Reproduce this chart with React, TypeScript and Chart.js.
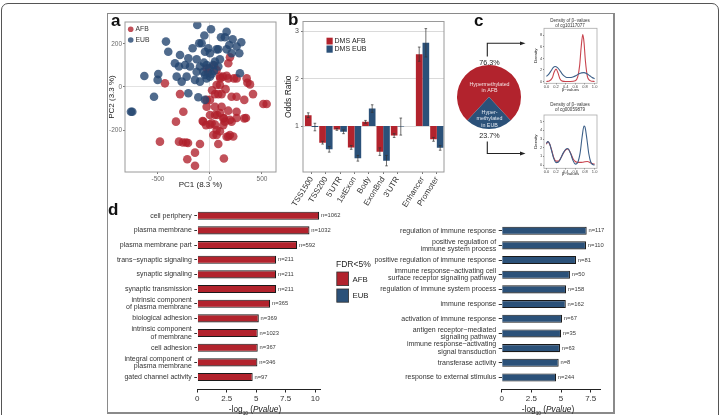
import React, { useEffect, useRef } from 'react';
import { Chart, registerables } from 'chart.js';

Chart.register(...registerables);
const FONT = '"Liberation Sans", Arial, Helvetica, sans-serif';
Chart.defaults.font.family = FONT;
Chart.defaults.color = '#333';

// ---------- colours
const RED = '#b2232d';
const BLUE = '#2b5179';
const RED_PT = 'rgba(176,32,44,0.78)';
const BLUE_PT = 'rgba(36,70,112,0.8)';
const DEN_RED = '#c8434d';
const DEN_BLUE = '#3d6089';

// ---------- panel a : PCA
const afbPC1 = [-433, -288, -256, -327, -481, -298, -260, -230, -96, -144, -218, -144, -32, 64, -16, 192, 176, 176, 256, 230, 353, 385, 64, 96, 48, 80, 112, 208, 256, 330, 513, 545, -32, 0, -32, 48, 112, 176, 256, 48, 96, 134, -64, 0, 48, 64, 96, 144, 208, 256, 346, 32, 64, 176, 224, 80, 134, 96, 125, 160, 360, 414, 100, -70, 0, 70, 128, 192, -38, 16, 128, 160, 192, 330, -211, 40, 20, 150];
const afbPC2 = [17, -33, -115, -161, -254, -254, -258, -258, -265, -305, -336, -366, 87, 79, 67, 138, 110, 40, 40, 40, 40, 12, 9, 9, -33, -33, -33, -45, -45, -60, -79, -79, -60, -60, -92, -92, -92, -110, -115, -130, -121, -144, -161, -175, -175, -200, -206, -161, -161, -144, -144, -223, -223, -230, -230, -265, -332, 48, 48, 52, 20, -33, 40, -158, -130, -130, -146, -153, -177, -169, -177, -231, -223, -146, -260, 100, -15, -10];
const eubPC1 = [-122, 10, 160, -54, 106, 144, -423, -103, 301, -167, 80, 218, 256, -401, -288, -208, -48, 0, 64, 208, 282, 48, -337, -240, -192, -96, -32, 32, 80, -298, -128, -64, -48, 0, -32, 16, -497, -631, -503, -224, -144, -320, -272, -96, 288, -208, -112, -538, -48, -747, -760, -128, 96, -16, -80, 38, -6, -58, 160, 186];
const eubPC2 = [288, 268, 257, 239, 231, 231, 211, 203, 208, 180, 175, 222, 188, 164, 149, 133, 164, 157, 175, 157, 157, 118, 110, 102, 95, 95, 102, 102, 95, 95, 71, 71, 56, 48, 40, 60, 60, 51, 33, 48, 33, 48, 25, 25, 64, -29, -48, -45, -60, -115, -115, 129, 129, 180, 203, 74, 87, 113, 175, 195];
const pc1Ticks = [-500, 0, 500];
const pc2Ticks = [-200, 0, 200];

// ---------- panel b : odds ratios
const regions = ['TSS1500', 'TSS200', "5'UTR", '1stExon', 'Body', 'ExonBnd', "3'UTR", 'Enhancer', 'Promoter'];
const regionPos = [0, 1, 2, 3, 4, 5, 6, 7.75, 8.75];
const orAFB = [1.23, 0.65, 0.93, 0.55, 1.09, 0.46, 0.8, 2.52, 0.72];
const orEUB = [0.98, 0.51, 0.88, 0.32, 1.37, 0.27, 0.99, 2.76, 0.54];
const errAFB = [0.05, 0.03, 0.02, 0.04, 0.03, 0.08, 0.04, 0.15, 0.04];
const errEUB = [0.08, 0.06, 0.04, 0.06, 0.08, 0.11, 0.18, 0.3, 0.05];
const orTicks = [1, 2, 3];

// ---------- panel c : pie + densities
const pieLabels = ['Hypermethylated in AFB', 'Hypermethylated in EUB'];
const pieShares = [76.3, 23.7];
const densXTicks = [0, 0.2, 0.4, 0.6, 0.8, 1.0];
const dens1YTicks = [0, 2, 4, 6, 8];
const dens2YTicks = [0, 1, 2, 3, 4, 5];
const d1RedX = [0, 0.06, 0.12, 0.16, 0.2, 0.24, 0.28, 0.33, 0.4, 0.5, 0.6, 0.65, 0.69, 0.72, 0.755, 0.78, 0.81, 0.85, 0.9, 0.95, 1.0];
const d1RedY = [0.02, 0.1, 0.6, 1.6, 2.15, 1.5, 0.5, 0.08, 0.02, 0.02, 0.15, 0.8, 2.8, 5.8, 8.1, 6.8, 3.5, 0.9, 0.2, 0.05, 0.02];
const d1BlueX = [0, 0.05, 0.1, 0.14, 0.18, 0.23, 0.28, 0.33, 0.38, 0.42, 0.48, 0.55, 0.62, 0.68, 0.73, 0.78, 0.84, 0.9, 0.95, 1.0];
const d1BlueY = [0.9, 1.3, 1.9, 2.4, 2.6, 2.4, 1.9, 1.3, 0.9, 0.7, 0.7, 0.8, 1.05, 1.35, 1.5, 1.55, 1.35, 1.0, 0.7, 0.5];
const d2RedX = [0, 0.03, 0.07, 0.11, 0.15, 0.2, 0.25, 0.3, 0.35, 0.4, 0.45, 0.5, 0.55, 0.6, 0.65, 0.7, 0.75, 0.8, 0.85, 0.9, 0.95, 1.0];
const d2RedY = [2.4, 2.7, 2.4, 1.7, 0.9, 0.45, 0.45, 0.8, 1.35, 1.75, 1.85, 1.4, 0.75, 0.4, 0.3, 0.3, 0.32, 0.38, 0.4, 0.3, 0.18, 0.1];
const d2BlueX = [0, 0.03, 0.07, 0.11, 0.15, 0.2, 0.25, 0.3, 0.35, 0.4, 0.44, 0.5, 0.55, 0.6, 0.65, 0.7, 0.74, 0.78, 0.8, 0.84, 0.88, 0.92, 0.96, 1.0];
const d2BlueY = [2.5, 2.7, 2.4, 1.6, 0.8, 0.28, 0.35, 0.8, 1.4, 1.8, 1.9, 1.35, 0.55, 0.1, 0.3, 1.4, 3.2, 4.5, 4.4, 3.0, 1.3, 0.35, 0.05, 0.0];

// ---------- panel d : GO enrichment
const goAFB = ['cell periphery', 'plasma membrane', 'plasma membrane part', 'trans\u2212synaptic signaling', 'synaptic signaling', 'synaptic transmission', 'intrinsic component\nof plasma membrane', 'biological adhesion', 'intrinsic component\nof membrane', 'cell adhesion', 'integral component of\nplasma membrane', 'gated channel activity'];
const goAFBScore = [10.34, 9.52, 8.47, 6.69, 6.69, 6.69, 6.18, 5.22, 5.13, 5.13, 5.1, 4.7];
const goAFBN = [1062, 1032, 592, 211, 211, 211, 365, 369, 1023, 367, 346, 97];
const goEUB = ['regulation of immune response', 'positive regulation of\nimmune system process', 'positive regulation of immune response', 'immune response\u2212activating cell\nsurface receptor signaling pathway', 'regulation of immune system process', 'immune response', 'activation of immune response', 'antigen receptor\u2212mediated\nsignaling pathway', 'immune response\u2212activating\nsignal transduction', 'transferase activity', 'response to external stimulus'];
const goEUBScore = [7.16, 7.1, 6.26, 5.75, 5.42, 5.4, 5.08, 5.0, 4.91, 4.8, 4.58];
const goEUBN = [117, 110, 81, 50, 158, 162, 67, 35, 63, 8, 244];
const goAFBTicks = [0, 2.5, 5, 7.5, 10];
const goEUBTicks = [0, 2.5, 5, 7.5];

// ---------- helpers
const pts = (xs: number[], ys: number[]) => xs.map((x, i) => ({ x, y: ys[i] }));
const setTicks = (vals: number[]) => (s: any) => { s.ticks = vals.map((v) => ({ value: v })); };
const fixW = (w: number) => (s: any) => { s.width = w; s.paddingTop = 0; s.paddingBottom = 0; s.paddingLeft = 0; s.paddingRight = 0; };
const fixH = (h: number) => (s: any) => { s.height = h; s.paddingTop = 0; s.paddingBottom = 0; s.paddingLeft = 0; s.paddingRight = 0; };
const noPlugins = { legend: { display: false }, tooltip: { enabled: false }, title: { display: false } };

function txt(c: CanvasRenderingContext2D, s: string, x: number, y: number, size: number, color: string, align: CanvasTextAlign = 'center', weight = 'normal', style = 'normal') {
  c.font = `${style} ${weight} ${size}px ${FONT}`;
  c.fillStyle = color;
  c.textAlign = align;
  c.textBaseline = 'middle';
  c.fillText(s, x, y);
}

const framePlugin = (color: string, lw = 1) => ({
  id: 'frame',
  afterDatasetsDraw(chart: any) {
    const { ctx, chartArea: a } = chart;
    ctx.save();
    ctx.strokeStyle = color;
    ctx.lineWidth = lw;
    ctx.strokeRect(a.left, a.top, a.right - a.left, a.bottom - a.top);
    ctx.restore();
  },
});

function ChartCanvas({ left, top, width, height, build }: { left: number; top: number; width: number; height: number; build: () => any }) {
  const ref = useRef<HTMLCanvasElement | null>(null);
  useEffect(() => {
    if (!ref.current) return;
    const chart = new Chart(ref.current, build());
    return () => chart.destroy();
  }, []);
  return <canvas ref={ref} width={width} height={height} style={{ position: 'absolute', left, top, width, height }} />;
}

// ---------- panel a
const buildA = () => {
  const ox = 107, oy = 14;
  return {
    type: 'scatter',
    data: {
      datasets: [
        { label: 'EUB', data: pts(eubPC1, eubPC2), backgroundColor: BLUE_PT, borderColor: 'rgba(0,0,0,0)', borderWidth: 0, pointRadius: 4.3 },
        { label: 'AFB', data: pts(afbPC1, afbPC2), backgroundColor: RED_PT, borderColor: 'rgba(0,0,0,0)', borderWidth: 0, pointRadius: 4.3 },
      ],
    },
    options: {
      animation: false, responsive: false, events: [],
      layout: { padding: { top: 8, right: 9, left: 0, bottom: 0 } },
      plugins: noPlugins,
      scales: {
        x: {
          type: 'linear', min: -817, max: 635, afterBuildTicks: setTicks(pc1Ticks), afterFit: fixH(18),
          grid: { color: (c: any) => (c.tick && c.tick.value === 0 ? '#e2e2e2' : 'rgba(0,0,0,0)'), tickColor: '#777', tickLength: 2 },
          border: { display: false },
          ticks: { font: { size: 6.5 }, color: '#6b6b6b', padding: 1, maxRotation: 0 },
          title: { display: true, text: 'PC1 (8.3 %)', font: { size: 8 }, color: '#222', padding: 0 },
        },
        y: {
          type: 'linear', min: -395, max: 302, afterBuildTicks: setTicks(pc2Ticks), afterFit: fixW(18),
          grid: { color: (c: any) => (c.tick && c.tick.value === 0 ? '#e2e2e2' : 'rgba(0,0,0,0)'), tickColor: '#777', tickLength: 2 },
          border: { display: false },
          ticks: { font: { size: 6.5 }, color: '#6b6b6b', padding: 1 },
          title: { display: true, text: 'PC2 (3.3 %)', font: { size: 8 }, color: '#222', padding: 0 },
        },
      },
    },
    plugins: [
      framePlugin('#9a9a9a'),
      {
        id: 'legA',
        afterDraw(chart: any) {
          const c = chart.ctx;
          c.save();
          const rows: [string, string, number][] = [[RED_PT, 'AFB', 29.3], [BLUE_PT, 'EUB', 40]];
          rows.forEach(([col, t, y]) => {
            c.fillStyle = col;
            c.beginPath();
            c.arc(130.7 - ox, y - oy, 2.8, 0, Math.PI * 2);
            c.fill();
            txt(c, t, 135.5 - ox, y - oy, 6.8, '#333', 'left');
          });
          c.restore();
        },
      },
    ],
  };
};

// ---------- panel b
const buildB = () => {
  const ox = 282, oy = 15;
  return {
    type: 'bar',
    data: {
      datasets: [
        { label: 'DMS AFB', data: regionPos.map((x, i) => ({ x, y: [1, orAFB[i]] })), backgroundColor: RED, categoryPercentage: 0.93, barPercentage: 1 },
        { label: 'DMS EUB', data: regionPos.map((x, i) => ({ x, y: [1, orEUB[i]] })), backgroundColor: BLUE, categoryPercentage: 0.93, barPercentage: 1 },
      ],
    },
    options: {
      animation: false, responsive: false, events: [],
      layout: { padding: { top: 6.5, right: 6, left: 0, bottom: 0 } },
      plugins: noPlugins,
      scales: {
        x: {
          type: 'linear', min: -0.6, max: 9.25, offset: false, afterBuildTicks: setTicks(regionPos), afterFit: fixH(38),
          grid: { drawOnChartArea: false, offset: false, tickLength: 2, tickColor: '#777' },
          border: { display: false },
          ticks: { callback: (_v: any, i: number) => regions[i], autoSkip: false, minRotation: 58, maxRotation: 58, font: { size: 8 }, color: '#333', padding: 1 },
        },
        y: {
          type: 'linear', min: 0.03, max: 3.21, afterBuildTicks: setTicks(orTicks), afterFit: fixW(21),
          grid: { color: '#dadada', tickColor: '#777', tickLength: 2 },
          border: { display: false },
          ticks: { font: { size: 7 }, color: '#4d4d4d', padding: 2 },
          title: { display: true, text: 'Odds Ratio', font: { size: 8.5 }, color: '#222', padding: { top: 2, bottom: 0 } },
        },
      },
    },
    plugins: [
      framePlugin('#9a9a9a'),
      {
        id: 'errB',
        afterDatasetsDraw(chart: any) {
          const c = chart.ctx;
          const yS = chart.scales.y;
          c.save();
          c.strokeStyle = '#333';
          c.lineWidth = 0.7;
          [[orAFB, errAFB], [orEUB, errEUB]].forEach(([vals, errs], di) => {
            const meta = chart.getDatasetMeta(di);
            meta.data.forEach((bar: any, i: number) => {
              const x = bar.x;
              const y1 = yS.getPixelForValue(vals[i] - errs[i]);
              const y2 = yS.getPixelForValue(vals[i] + errs[i]);
              c.beginPath();
              c.moveTo(x, y1); c.lineTo(x, y2);
              c.moveTo(x - 1.3, y1); c.lineTo(x + 1.3, y1);
              c.moveTo(x - 1.3, y2); c.lineTo(x + 1.3, y2);
              c.stroke();
            });
          });
          c.restore();
        },
        afterDraw(chart: any) {
          const c = chart.ctx;
          c.save();
          c.fillStyle = RED;
          c.fillRect(326.5 - ox, 37.7 - oy, 6.2, 6.8);
          c.fillStyle = BLUE;
          c.fillRect(326.5 - ox, 45.5 - oy, 6.2, 7.2);
          txt(c, chart.data.datasets[0].label, 334.5 - ox, 41.2 - oy, 7, '#222', 'left');
          txt(c, chart.data.datasets[1].label, 334.5 - ox, 49.3 - oy, 7, '#222', 'left');
          c.restore();
        },
      },
    ],
  };
};

// ---------- panel c pie
const buildPie = () => {
  const ox = 444, oy = 35;
  const rot = 180 + (pieShares[1] / 100) * 180;
  return {
    type: 'pie',
    data: { labels: pieLabels, datasets: [{ data: pieShares, backgroundColor: [RED, BLUE], borderWidth: 0 }] },
    options: {
      animation: false, responsive: false, events: [],
      rotation: rot,
      layout: { padding: { left: 13, right: 13, top: 30, bottom: 31 } },
      plugins: noPlugins,
    },
    plugins: [
      {
        id: 'pieTxt',
        afterDraw(chart: any) {
          const c = chart.ctx;
          c.save();
          const cx = 489.5 - ox;
          txt(c, pieShares[0].toFixed(1) + '%', cx, 63.3 - oy, 7.2, '#222');
          txt(c, pieShares[1].toFixed(1) + '%', cx, 135.7 - oy, 7.2, '#222');
          txt(c, 'Hypermethylated', cx, 84.5 - oy, 5.3, '#f4e4e4');
          txt(c, 'in AFB', cx, 90.8 - oy, 5.3, '#f4e4e4');
          txt(c, 'Hyper-', cx, 112.3 - oy, 5.3, '#e4eaf2');
          txt(c, 'methylated', cx, 119 - oy, 5.3, '#e4eaf2');
          txt(c, 'in EUB', cx, 125.6 - oy, 5.3, '#e4eaf2');
          // arrows
          c.strokeStyle = '#222';
          c.fillStyle = '#222';
          c.lineWidth = 1.1;
          const ax = 487.3 - ox;
          c.beginPath();
          c.moveTo(ax, 56.5 - oy); c.lineTo(ax, 43.3 - oy); c.lineTo(521 - ox, 43.3 - oy);
          c.moveTo(ax, 141.5 - oy); c.lineTo(ax, 153.5 - oy); c.lineTo(521 - ox, 153.5 - oy);
          c.stroke();
          [43.3, 153.5].forEach((y) => {
            c.beginPath();
            c.moveTo(525.5 - ox, y - oy);
            c.lineTo(520 - ox, y - 1.9 - oy);
            c.lineTo(520 - ox, y + 1.9 - oy);
            c.closePath();
            c.fill();
          });
          c.restore();
        },
      },
    ],
  };
};

// ---------- panel c densities
function buildDensity(o: { ox: number; oy: number; title: string[]; titleY: number[]; yMin: number; yMax: number; yTicks: number[]; red: any[]; blue: any[]; padTop: number; padBottom: number; xH: number }) {
  return () => ({
    type: 'line',
    data: {
      datasets: [
        { data: o.blue, borderColor: DEN_BLUE, borderWidth: 1.1, pointRadius: 0, cubicInterpolationMode: 'monotone', fill: false },
        { data: o.red, borderColor: DEN_RED, borderWidth: 1.1, pointRadius: 0, cubicInterpolationMode: 'monotone', fill: false },
      ],
    },
    options: {
      animation: false, responsive: false, events: [],
      layout: { padding: { top: o.padTop, right: 5, bottom: o.padBottom, left: 0 } },
      plugins: noPlugins,
      scales: {
        x: {
          type: 'linear', min: -0.05, max: 1.05, afterBuildTicks: setTicks(densXTicks), afterFit: fixH(o.xH),
          grid: { drawOnChartArea: false, tickLength: 1, tickColor: '#666' },
          border: { display: false },
          ticks: { font: { size: 4 }, color: '#444', padding: 0, maxRotation: 0, callback: (v: any) => Number(v).toFixed(1) },
          title: { display: true, text: '\u03b2\u2212values', font: { size: 4.3 }, color: '#222', padding: 0 },
        },
        y: {
          type: 'linear', min: o.yMin, max: o.yMax, afterBuildTicks: setTicks(o.yTicks), afterFit: fixW(19),
          grid: { drawOnChartArea: false, tickLength: 1, tickColor: '#666' },
          border: { display: false },
          ticks: { font: { size: 4 }, color: '#444', padding: 0.8 },
          title: { display: true, text: 'Density', font: { size: 4.3 }, color: '#222', padding: { top: 8.4, bottom: 0 } },
        },
      },
    },
    plugins: [
      framePlugin('#aaaaaa', 0.8),
      {
        id: 'dTitle',
        afterDraw(chart: any) {
          const c = chart.ctx;
          c.save();
          o.title.forEach((t, i) => txt(c, t, 570 - o.ox, o.titleY[i] - o.oy, 4.5, '#333'));
          c.restore();
        },
      },
    ],
  });
}

// ---------- panel d
function drawPTitle(c: CanvasRenderingContext2D, cx: number, cy: number) {
  const parts = [
    { t: '-log', s: 8.3, st: 'normal', dy: 0 },
    { t: '10', s: 4.8, st: 'normal', dy: 2.2 },
    { t: ' (', s: 8.3, st: 'normal', dy: 0 },
    { t: 'Pvalue', s: 8.3, st: 'italic', dy: 0 },
    { t: ')', s: 8.3, st: 'normal', dy: 0 },
  ];
  let total = 0;
  parts.forEach((p) => { c.font = `${p.st} normal ${p.s}px ${FONT}`; total += c.measureText(p.t).width; });
  let x = cx - total / 2;
  c.textAlign = 'left';
  c.textBaseline = 'alphabetic';
  c.fillStyle = '#222';
  parts.forEach((p) => {
    c.font = `${p.st} normal ${p.s}px ${FONT}`;
    c.fillText(p.t, x, cy + 3 + p.dy);
    x += c.measureText(p.t).width;
  });
}

function buildGO(o: { ox: number; oy: number; labels: string[]; scores: number[]; ns: number[]; color: string; max: number; rowMax: number; xTicks: number[]; yW: number; padTop: number; padRight: number; titleX: number; legend: boolean }) {
  return () => ({
    type: 'bar',
    data: {
      datasets: [{
        data: o.scores.map((v, i) => ({ x: v, y: i })),
        backgroundColor: o.color, borderColor: '#1a1a1a', borderWidth: 1.1,
        barPercentage: 0.55, categoryPercentage: 1,
      }],
    },
    options: {
      indexAxis: 'y',
      animation: false, responsive: false, events: [],
      layout: { padding: { top: o.padTop, right: o.padRight, left: 0, bottom: 0 } },
      plugins: noPlugins,
      scales: {
        x: {
          type: 'linear', min: 0, max: o.max, afterBuildTicks: setTicks(o.xTicks), afterFit: fixH(25.5),
          grid: { drawOnChartArea: false, tickLength: 3, tickColor: '#222', lineWidth: 1 },
          border: { display: true, color: '#222', width: 1.1 },
          ticks: { font: { size: 8 }, color: '#333', padding: 1.5, maxRotation: 0, callback: (v: any) => String(v) },
        },
        y: {
          type: 'linear', min: -0.5, max: o.rowMax, reverse: true, offset: false,
          afterBuildTicks: setTicks(o.labels.map((_, i) => i)), afterFit: fixW(o.yW),
          grid: { drawOnChartArea: false, offset: false, tickLength: 3, tickColor: '#333' },
          border: { display: false },
          ticks: { autoSkip: false, font: { size: 7, lineHeight: 1.08 }, color: '#333', padding: 2.5, callback: (v: any) => (o.labels[v] || '').split('\n') },
        },
      },
    },
    plugins: [
      {
        id: 'goExtras',
        afterDraw(chart: any) {
          const c = chart.ctx;
          c.save();
          const meta = chart.getDatasetMeta(0);
          meta.data.forEach((bar: any, i: number) => {
            txt(c, 'n=' + o.ns[i], bar.x + 1.8, bar.y, 5.8, '#3a3a3a', 'left');
          });
          drawPTitle(c, o.titleX - o.ox, 409.3 - o.oy);
          if (o.legend) {
            txt(c, 'FDR<5%', 336 - o.ox, 264.3 - o.oy, 8.5, '#222', 'left');
            c.strokeStyle = '#333';
            c.lineWidth = 0.8;
            c.fillStyle = RED;
            c.fillRect(336.8 - o.ox, 272 - o.oy, 11.8, 13.6);
            c.strokeRect(336.8 - o.ox, 272 - o.oy, 11.8, 13.6);
            c.fillStyle = BLUE;
            c.fillRect(336.8 - o.ox, 289 - o.oy, 11.8, 13.2);
            c.strokeRect(336.8 - o.ox, 289 - o.oy, 11.8, 13.2);
            txt(c, 'AFB', 352.5 - o.ox, 279.5 - o.oy, 7.8, '#222', 'left');
            txt(c, 'EUB', 352.5 - o.ox, 295.5 - o.oy, 7.8, '#222', 'left');
          }
          c.restore();
        },
      },
    ],
  });
}

const letterStyle = (left: number, top: number): React.CSSProperties => ({
  position: 'absolute', left, top, fontFamily: FONT, fontWeight: 700, fontSize: 17, lineHeight: '17px', color: '#111',
});

export default function App() {
  return (
    <div style={{ position: 'absolute', left: 0, top: 0, width: 720, height: 415, overflow: 'hidden', background: '#fff' }}>
      <div style={{ position: 'absolute', left: 1, top: 3, width: 718, height: 440, boxSizing: 'border-box', border: '1px solid #555', borderRadius: 7 }} />
      <div style={{ position: 'absolute', left: 107, top: 13, width: 508, height: 401, boxSizing: 'border-box', border: '1px solid #8a8a8a', borderRightWidth: 2, borderBottomWidth: 2 }} />
      <ChartCanvas left={107} top={14} width={178} height={176} build={buildA} />
      <ChartCanvas left={282} top={15} width={168} height={195} build={buildB} />
      <ChartCanvas left={444} top={35} width={90} height={125} build={buildPie} />
      <ChartCanvas left={525} top={12} width={77} height={84} build={buildDensity({ ox: 525, oy: 12, title: ['Density of \u03b2\u2212values', 'of cg10117077'], titleY: [20.3, 25.3], yMin: -0.3, yMax: 9.2, yTicks: dens1YTicks, red: pts(d1RedX, d1RedY), blue: pts(d1BlueX, d1BlueY), padTop: 16.3, padBottom: 4, xH: 8.7 })} />
      <ChartCanvas left={525} top={98} width={77} height={80} build={buildDensity({ ox: 525, oy: 98, title: ['Density of \u03b2\u2212values', 'of cg00059879'], titleY: [104.3, 109.3], yMin: -0.38, yMax: 5.77, yTicks: dens2YTicks, red: pts(d2RedX, d2RedY), blue: pts(d2BlueX, d2BlueY), padTop: 17, padBottom: 1.6, xH: 8.1 })} />
      <ChartCanvas left={333} top={215} width={280} height={200} build={buildGO({ ox: 333, oy: 215, labels: goEUB, scores: goEUBScore, ns: goEUBN, color: BLUE, max: 8.34, rowMax: 10.82, xTicks: goEUBTicks, yW: 168.7, padTop: 8.35, padRight: 12.3, titleX: 548, legend: true })} />
      <ChartCanvas left={110} top={200} width={242} height={215} build={buildGO({ ox: 110, oy: 200, labels: goAFB, scores: goAFBScore, ns: goAFBN, color: RED, max: 10.43, rowMax: 11.85, xTicks: goAFBTicks, yW: 87.3, padTop: 8.4, padRight: 31.8, titleX: 255, legend: false })} />
      <div style={letterStyle(111, 11.6)}>a</div>
      <div style={letterStyle(288, 10.6)}>b</div>
      <div style={letterStyle(474, 12)}>c</div>
      <div style={letterStyle(108, 200.6)}>d</div>
    </div>
  );
}
